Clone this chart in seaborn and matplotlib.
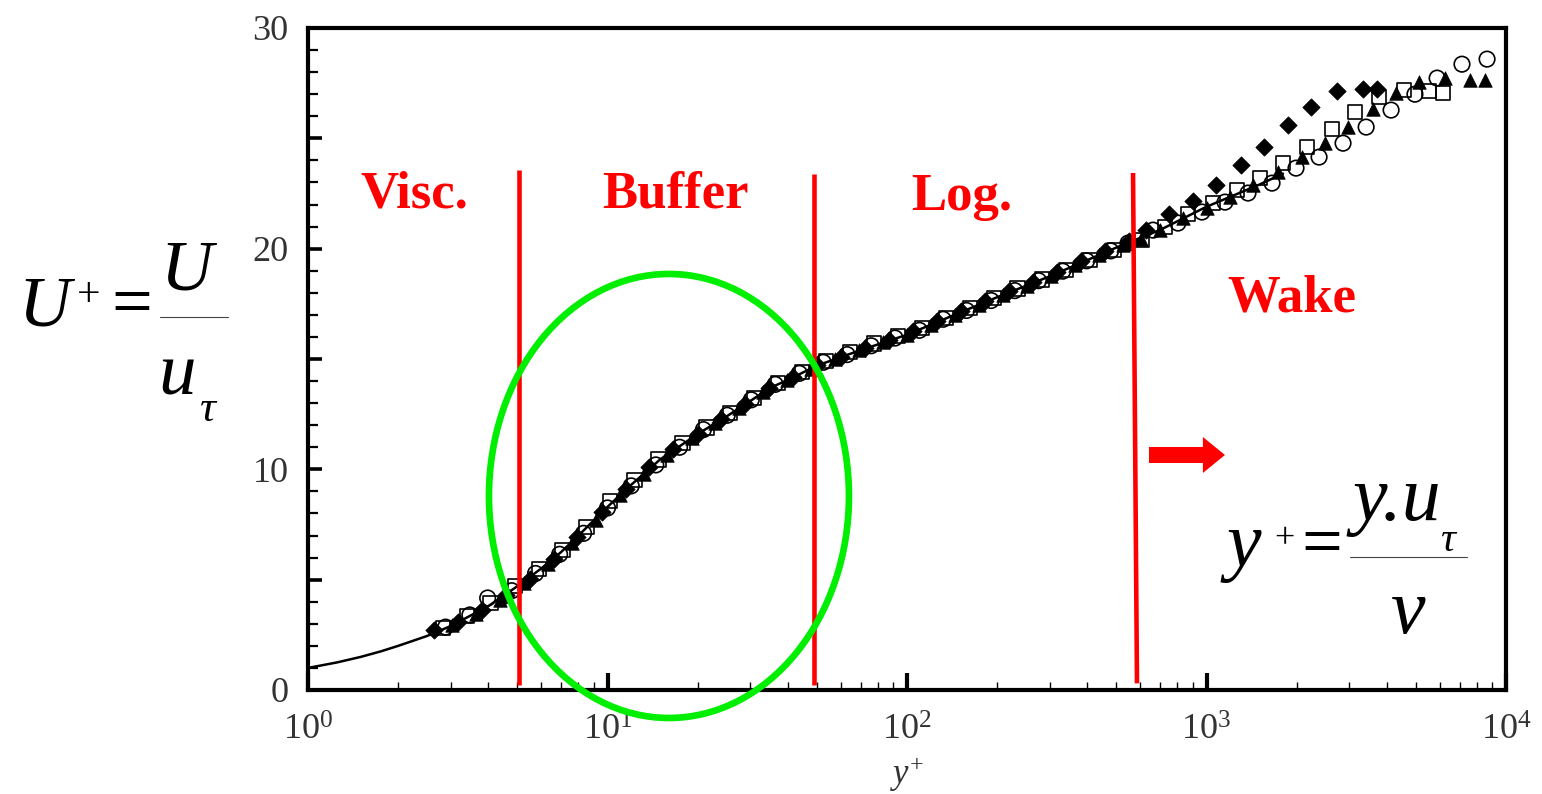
import numpy as np
import pandas as pd
import matplotlib
matplotlib.use('Agg')
import matplotlib.pyplot as plt
import seaborn as sns
from matplotlib.patches import Ellipse, FancyArrow
from matplotlib.lines import Line2D
from matplotlib.ticker import MultipleLocator, FuncFormatter, LogLocator, NullFormatter, FixedLocator

# ---------------- data ----------------
line_yp = [1.0, 1.25, 1.5, 1.75, 2.0, 2.5, 3.0, 4.0, 5.0, 6.0, 7.0, 8.0, 10, 12, 15, 20, 25, 30, 35,
           40, 50, 70, 100, 150, 200, 300, 500, 700, 1000, 1500, 1800]
line_up = [1.0, 1.25, 1.5, 1.75, 2.0, 2.45, 2.9, 3.8, 4.7, 5.5, 6.25, 7.0, 8.3, 9.3, 10.45, 11.6, 12.4,
           13.1, 13.7, 14.05, 14.7, 15.4, 16.1, 17.1, 17.8, 18.75, 20.05, 20.85, 21.9, 22.9, 23.4]

diamond_yp = [2.63, 3.16, 3.80, 4.57, 5.50, 6.61, 7.94, 9.55, 11.5, 13.8, 16.6, 20.0, 24.0, 28.8, 34.7,
              41.7, 50.1, 60.3, 72.4, 87.1, 105, 126, 151, 182, 219, 263, 316, 380, 457, 550,
              628, 750, 901, 1076, 1304, 1556, 1872, 2234, 2729, 3333, 3708]
diamond_up = [2.72, 3.10, 3.62, 4.30, 5.05, 5.95, 6.92, 8.05, 9.10, 10.10, 10.90, 11.62, 12.28, 12.98,
              13.70, 14.20, 14.75, 15.10, 15.50, 15.85, 16.25, 16.70, 17.18, 17.62, 18.06, 18.50, 18.95,
              19.42, 19.90, 20.35, 20.84, 21.57, 22.16, 22.88, 23.79, 24.61, 25.61, 26.42, 27.14,
              27.23, 27.23]

circle_yp = [2.88, 3.47, 3.98, 4.79, 5.75, 6.92, 8.32, 10.0, 12.0, 14.5, 17.4, 20.9, 25.1, 30.2, 36.3,
             43.7, 52.5, 63.1, 75.9, 91.2, 110, 132, 158, 191, 229, 275, 331, 398, 479,
             547, 663, 803, 966, 1153, 1376, 1655, 1990, 2376, 2857, 3412, 4133, 4965, 5888, 7129, 8645]
circle_up = [2.85, 3.40, 4.17, 4.50, 5.28, 6.15, 7.10, 8.25, 9.25, 10.20, 11.00, 11.80, 12.45, 13.15,
             13.85, 14.35, 14.85, 15.20, 15.60, 15.95, 16.30, 16.80, 17.20, 17.65, 18.10, 18.55, 18.98,
             19.45, 19.90, 20.25, 20.84, 21.16, 21.66, 22.11, 22.52, 22.97, 23.65, 24.15, 24.78,
             25.51, 26.28, 27.00, 27.73, 28.36, 28.59]

square_yp = [2.82, 3.39, 4.07, 4.90, 5.89, 7.08, 8.51, 10.2, 12.3, 14.8, 17.8, 21.4, 25.7, 30.9, 37.2,
             44.7, 53.7, 64.6, 77.6, 93.3, 112, 135, 162, 195, 234, 282, 339, 407, 490,
             609, 727, 867, 1051, 1264, 1509, 1800, 2163, 2623, 3133, 3767, 4563, 5532, 6166]
square_up = [2.80, 3.35, 3.95, 4.70, 5.50, 6.35, 7.40, 8.55, 9.50, 10.45, 11.20, 11.90, 12.55, 13.25,
             13.90, 14.40, 14.90, 15.30, 15.70, 16.05, 16.40, 16.85, 17.30, 17.75, 18.20, 18.60, 19.05,
             19.50, 19.95, 20.39, 20.98, 21.57, 22.07, 22.66, 23.20, 23.88, 24.61, 25.42, 26.19,
             26.87, 27.19, 27.14, 27.05]

triangle_yp = [3.02, 3.63, 4.37, 5.25, 6.31, 7.59, 9.12, 11.0, 13.2, 15.8, 19.1, 22.9, 27.5, 33.1, 39.8,
               47.9, 57.5, 69.2, 83.2, 100, 120, 145, 174, 209, 251, 302, 363, 437, 525, 603,
               700, 835, 1004, 1198, 1429, 1733, 2084, 2488, 2966, 3597, 4296, 5129, 6252, 7586, 8511]
triangle_up = [2.95, 3.45, 4.10, 4.85, 5.70, 6.68, 7.72, 8.85, 9.80, 10.65, 11.40, 12.10, 12.80, 13.50,
               14.05, 14.55, 15.00, 15.40, 15.75, 16.10, 16.55, 17.00, 17.45, 17.90, 18.30, 18.78, 19.25,
               19.70, 20.15, 20.45, 20.84, 21.39, 21.84, 22.34, 22.88, 23.47, 24.15, 24.78, 25.51,
               26.33, 27.05, 27.55, 27.73, 27.64, 27.64]

# region boundaries (red lines): y+ at top / bottom, U+ at top / bottom
bound_yp_top = [5.08, 49.0, 568.5]
bound_yp_bot = [5.08, 49.0, 586.0]
bound_u_top = [23.56, 23.38, 23.43]
bound_u_bot = [0.23, 0.23, 0.30]

region_labels = ['Visc.', 'Buffer', 'Log.', 'Wake']
x_ticks = [1, 10, 100, 1000, 10000]
y_ticks = [0, 10, 20, 30]

# ---------------- style ----------------
sns.set_style('white')
plt.rcParams['font.family'] = ['Liberation Serif', 'DejaVu Serif']
plt.rcParams['mathtext.fontset'] = 'custom'
plt.rcParams['mathtext.rm'] = 'Liberation Serif'
plt.rcParams['mathtext.it'] = 'Liberation Serif:italic'
plt.rcParams['text.color'] = 'black'

W, H = 1542, 794
fig = plt.figure(figsize=(W / 100, H / 100), dpi=100)
fig.patch.set_facecolor('white')
ax = fig.add_axes([308 / W, 1 - 690 / H, 1198 / W, 662 / H])
ax.set_xscale('log')

# law-of-the-wall curve
sns.lineplot(x=line_yp, y=line_up, ax=ax, color='black', lw=1.8, sort=False, estimator=None, zorder=2)

mk_lw = 1.2
sns.scatterplot(x=circle_yp, y=circle_up, ax=ax, marker='o', s=125, color='black',
                linewidth=mk_lw, zorder=3)
ax.collections[-1].set_facecolor('none')
ax.collections[-1].set_edgecolor('black')
sns.scatterplot(x=square_yp, y=square_up, ax=ax, marker='s', s=105, color='black',
                linewidth=mk_lw, zorder=3)
ax.collections[-1].set_facecolor('none')
ax.collections[-1].set_edgecolor('black')
sns.scatterplot(x=triangle_yp, y=triangle_up, ax=ax, marker='^', s=95, color='black',
                edgecolor='black', linewidth=0.5, zorder=3)
sns.scatterplot(x=diamond_yp, y=diamond_up, ax=ax, marker='D', s=78, color='black',
                edgecolor='black', linewidth=0.5, zorder=3)

# red region boundaries
for xt, xb, yt, yb in zip(bound_yp_top, bound_yp_bot, bound_u_top, bound_u_bot):
    ax.plot([xt, xb], [yt, yb], color='#ff0000', lw=3.3, solid_capstyle='butt', zorder=6)

ax.set_xlim(1, 10000)
ax.set_ylim(0, 30)

# green ellipse (buffer highlight)
ell = Ellipse((0.3013, 0.2931), 0.3005, 0.6707, transform=ax.transAxes, fill=False,
              ec='#00ee00', lw=4.8, clip_on=False, zorder=7)
ax.add_patch(ell)

# red arrow
arr = FancyArrow(0.702, 0.355, 0.0634, 0.0, width=0.0242, head_width=0.0544,
                 head_length=0.0184, length_includes_head=True, transform=ax.transAxes,
                 color='#ff0000', lw=0, clip_on=False, zorder=7)
ax.add_patch(arr)

# ---------------- axes styling ----------------
for sp in ax.spines.values():
    sp.set_visible(True)
    sp.set_color('black')
    sp.set_linewidth(3.0)

ax.xaxis.set_major_locator(FixedLocator(x_ticks))
ax.xaxis.set_minor_locator(LogLocator(base=10, subs=np.arange(2, 10)))
ax.xaxis.set_minor_formatter(NullFormatter())
ax.yaxis.set_major_locator(MultipleLocator(5))
ax.yaxis.set_minor_locator(MultipleLocator(1))
ax.yaxis.set_major_formatter(FuncFormatter(lambda v, p: f'{int(round(v))}' if int(round(v)) in y_ticks else ''))

ax.tick_params(axis='both', which='both', direction='in', top=False, right=False,
               bottom=True, left=True, color='black')
ax.tick_params(axis='both', which='major', labelcolor='#333333', labelsize=26)
ax.tick_params(axis='x', which='major', length=12, width=3.0, pad=18)
ax.tick_params(axis='x', which='minor', length=6, width=1.0)
ax.tick_params(axis='y', which='major', length=10, width=2.6, pad=14)
ax.tick_params(axis='y', which='minor', length=7, width=1.6)

ax.set_xlabel('$y^{+}$', fontsize=25, color='#333333', labelpad=5)
ax.set_ylabel('')
ax.grid(False)


def ftext(x, y, s, **kw):
    fig.text(x / W, 1 - y / H, s, **kw)


# region labels
red_kw = dict(color='#ff0000', fontsize=38, fontweight='bold', ha='left', va='baseline')
ftext(360, 207, region_labels[0], **red_kw)
ftext(602, 208, region_labels[1], **red_kw)
ftext(911, 210, region_labels[2], **red_kw)
ftext(1227, 312, region_labels[3], **red_kw)

# left formula  U+ = U / u_tau
ftext(18, 325, 'U', fontsize=52, style='italic', ha='left', va='baseline')
ftext(89, 296, '+', fontsize=30, ha='center', va='center')
ftext(132, 307, '=', fontsize=52, ha='center', va='center')
fig.add_artist(Line2D([160 / W, 228 / W], [1 - 317 / H] * 2, color='#444444', lw=0.8))
ftext(160, 290, 'U', fontsize=52, style='italic', ha='left', va='baseline')
ftext(158, 395, 'u', fontsize=54, style='italic', ha='left', va='baseline')
ftext(199, 421, 'τ', fontsize=32, style='italic', ha='left', va='baseline')

# right formula  y+ = y.u_tau / nu
ftext(1226, 566, 'y', fontsize=56, style='italic', ha='left', va='baseline')
ftext(1284, 540, '+', fontsize=26, ha='center', va='center')
ftext(1322, 547, '=', fontsize=52, ha='center', va='center')
fig.add_artist(Line2D([1350 / W, 1467 / W], [1 - 557 / H] * 2, color='#444444', lw=0.8))
ftext(1353, 520, 'y.u', fontsize=56, style='italic', ha='left', va='baseline')
ftext(1440, 551, 'τ', fontsize=30, style='italic', ha='left', va='baseline')
ftext(1408, 633, 'ν', fontsize=56, style='italic', ha='center', va='baseline')

fig.savefig('out.png', dpi=100, facecolor='white')
